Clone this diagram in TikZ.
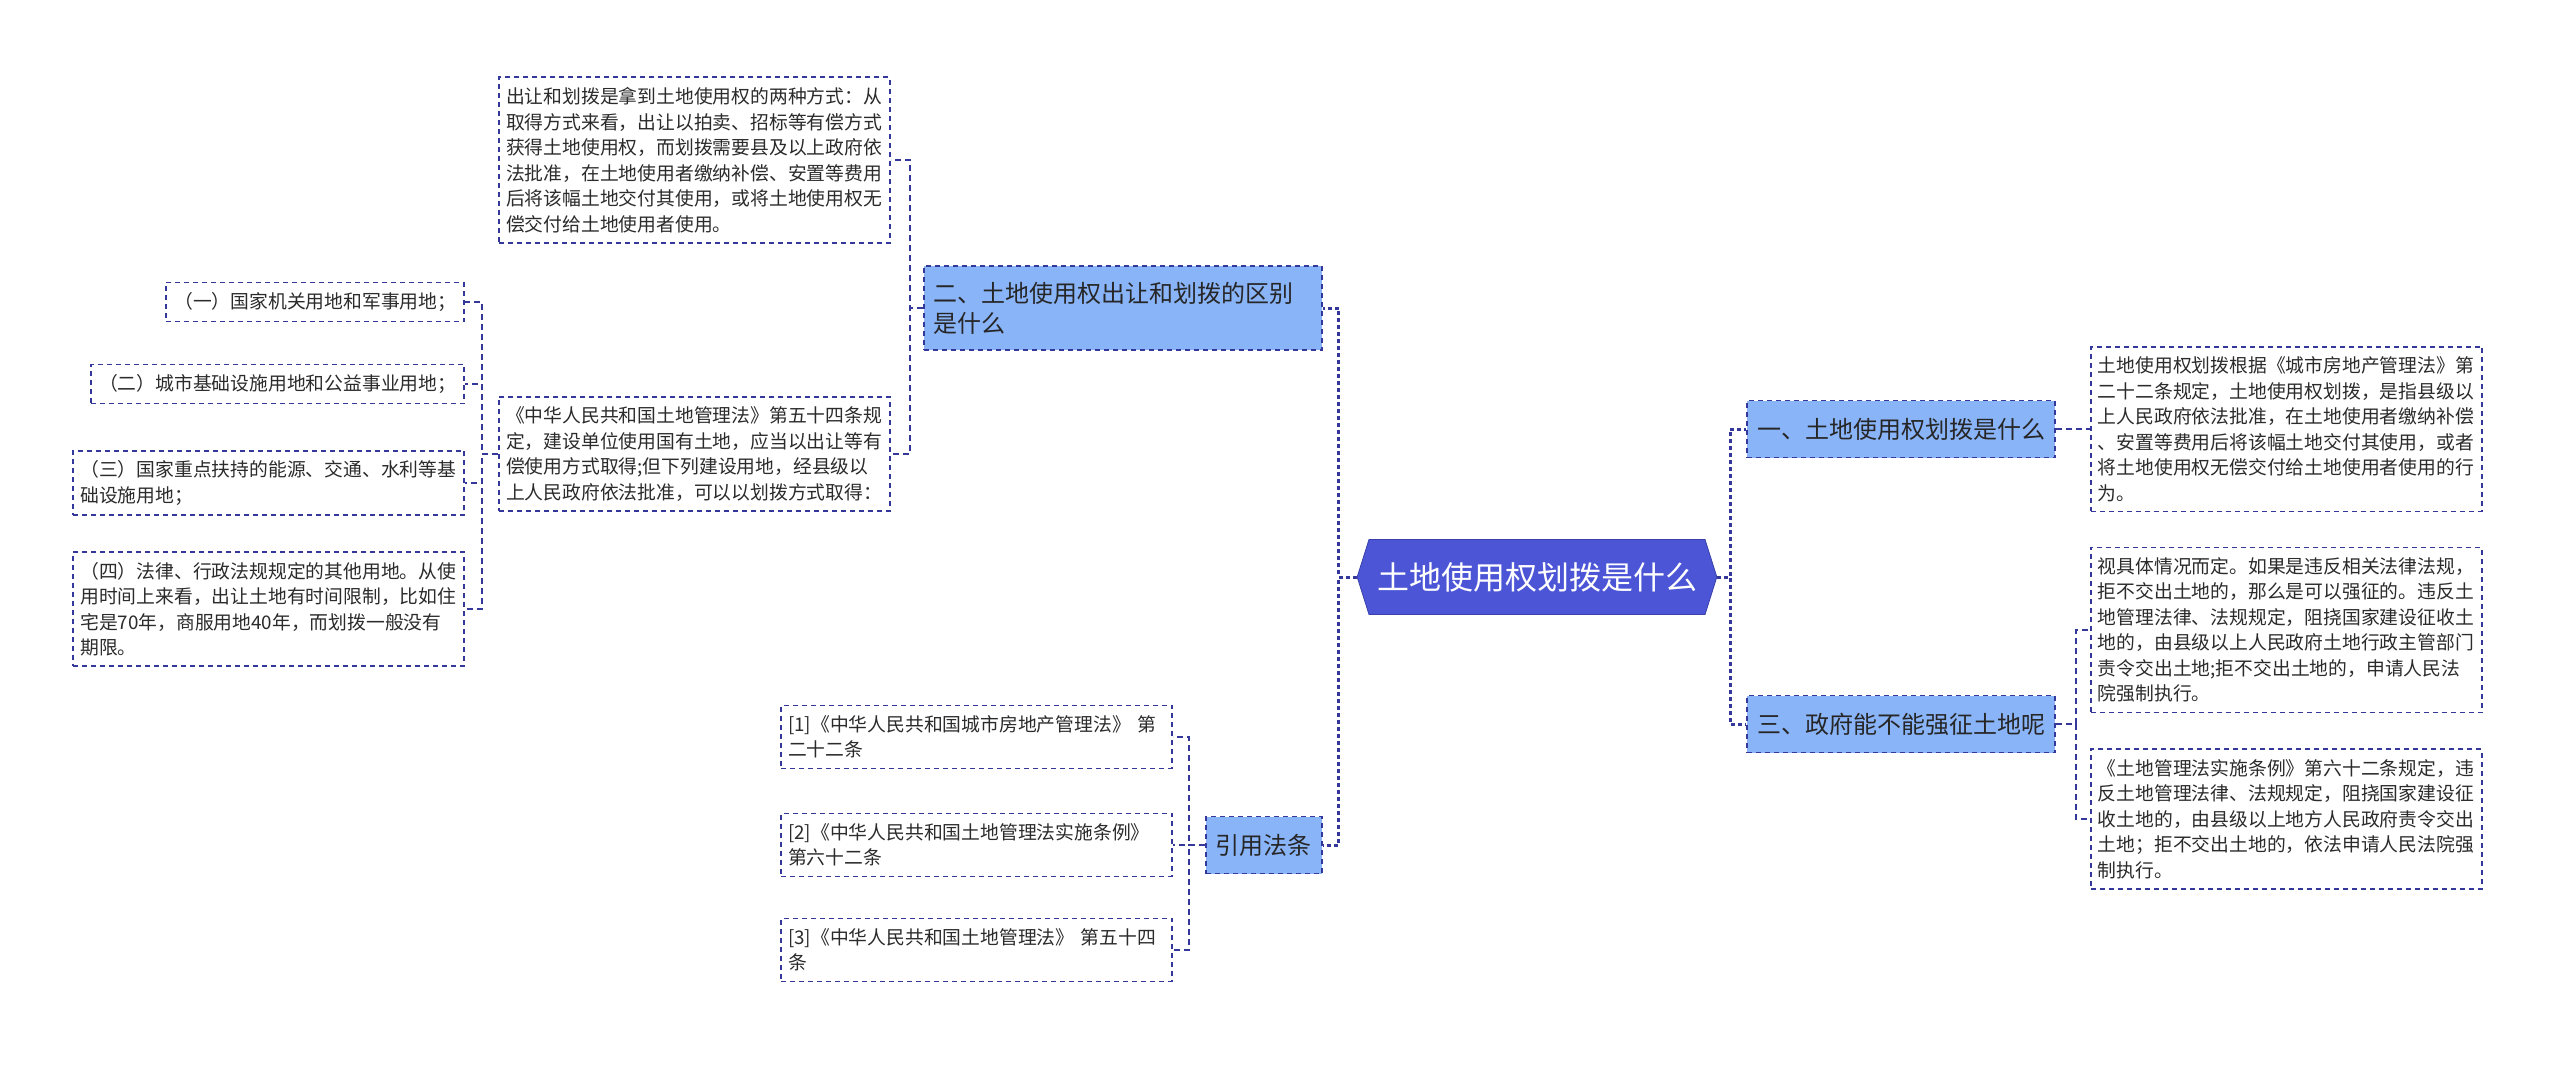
\documentclass[tikz,border=0pt]{standalone}
\usepackage{fontspec}
\setmainfont{Noto Sans CJK SC}
\usetikzlibrary{positioning,shapes.symbols}
\definecolor{rootblue}{HTML}{4B55D6}
\definecolor{rootedge}{HTML}{3A41A8}
\definecolor{branchblue}{HTML}{8AB4F8}
\definecolor{navy}{HTML}{33389A}
\definecolor{leaftext}{HTML}{2B2B2B}
\tikzset{
  rootnode/.style={shape=signal, signal to=east and west, signal pointer angle=145,
                   draw=rootedge, fill=rootblue, text=white, inner xsep=4pt,
                   font=\fontsize{16}{19}\selectfont,
                   minimum width=177pt, minimum height=37.5pt},
  branch/.style={rectangle, draw=navy, line width=0.9pt, dash pattern=on 2.5pt off 2pt,
                 fill=branchblue, text=black!85, align=left,
                 font=\fontsize{12}{15}\selectfont,
                 inner xsep=5pt, inner ysep=8pt, minimum height=28.5pt},
  leaf/.style={rectangle, draw=navy, line width=0.9pt, dash pattern=on 2.5pt off 2pt,
               fill=white, text=leaftext, align=left, text width=188.5pt,
               font=\fontsize{9.4}{12.75}\selectfont,
               inner xsep=3.5pt, inner ysep=5pt},
  shortleaf/.style={leaf, text width=, inner xsep=4pt},
  mainlink/.style={draw=navy, line width=1.5pt, dash pattern=on 2pt off 1.5pt},
  link/.style={draw=navy, line width=0.8pt, dash pattern=on 3pt off 2pt}
}
\begin{document}
\begin{tikzpicture}
  \useasboundingbox (0,0) rectangle (1280pt,-532.5pt);
  \node[rootnode] (root) at (768.5pt,-288.5pt) {土地使用权划拨是什么};

  % left side
  \node[branch, text width=189pt, left=17pt of root.west, yshift=134.5pt] (qtwo)
    {二、土地使用权出让和划拨的区别\\是什么};
  \node[branch, left=17pt of root.west, yshift=-134pt] (qfour) {引用法条};

  \node[leaf, left=16pt of qtwo.west, yshift=74pt] (ltop)
    {出让和划拨是拿到土地使用权的两种方式：从\\取得方式来看，出让以拍卖、招标等有偿方式\\获得土地使用权，而划拨需要县及以上政府依\\法批准，在土地使用者缴纳补偿、安置等费用\\后将该幅土地交付其使用，或将土地使用权无\\偿交付给土地使用者使用。};
  \node[leaf, left=16pt of qtwo.west, yshift=-73pt] (lmid)
    {《中华人民共和国土地管理法》第五十四条规\\定，建设单位使用国有土地，应当以出让等有\\偿使用方式取得;但下列建设用地，经县级以\\上人民政府依法批准，可以以划拨方式取得：};

  \node[shortleaf, left=16.5pt of lmid.west, yshift=76pt] (ka) {（一）国家机关用地和军事用地；};
  \node[shortleaf, left=16.5pt of lmid.west, yshift=35pt] (kb) {（二）城市基础设施用地和公益事业用地；};
  \node[leaf, left=16.5pt of lmid.west, yshift=-14.5pt] (kc)
    {（三）国家重点扶持的能源、交通、水利等基\\础设施用地；};
  \node[leaf, left=16.5pt of lmid.west, yshift=-77.5pt] (kd)
    {（四）法律、行政法规规定的其他用地。从使\\用时间上来看，出让土地有时间限制，比如住\\宅是70年，商服用地40年，而划拨一般没有\\期限。};

  \node[leaf, left=16pt of qfour.west, yshift=54pt] (refa)
    {[1]《中华人民共和国城市房地产管理法》 第\\二十二条};
  \node[leaf, left=16pt of qfour.west] (refb)
    {[2]《中华人民共和国土地管理法实施条例》\\第六十二条};
  \node[leaf, left=16pt of qfour.west, yshift=-52.5pt] (refc)
    {[3]《中华人民共和国土地管理法》 第五十四\\条};

  % right side
  \node[branch, right=14.5pt of root.east, yshift=74pt] (qone) {一、土地使用权划拨是什么};
  \node[branch, right=14.5pt of root.east, yshift=-73.5pt] (qthree) {三、政府能不能强征土地呢};

  \node[leaf, right=17pt of qone.east] (aone)
    {土地使用权划拨根据《城市房地产管理法》第\\二十二条规定，土地使用权划拨，是指县级以\\上人民政府依法批准，在土地使用者缴纳补偿\\、安置等费用后将该幅土地交付其使用，或者\\将土地使用权无偿交付给土地使用者使用的行\\为。};
  \node[leaf, right=17pt of qthree.east, yshift=47pt] (bone)
    {视具体情况而定。如果是违反相关法律法规，\\拒不交出土地的，那么是可以强征的。违反土\\地管理法律、法规规定，阻挠国家建设征收土\\地的，由县级以上人民政府土地行政主管部门\\责令交出土地;拒不交出土地的，申请人民法\\院强制执行。};
  \node[leaf, right=17pt of qthree.east, yshift=-47.5pt] (btwo)
    {《土地管理法实施条例》第六十二条规定，违\\反土地管理法律、法规规定，阻挠国家建设征\\收土地的，由县级以上地方人民政府责令交出\\土地；拒不交出土地的，依法申请人民法院强\\制执行。};

  % connectors
  \draw[mainlink] (root.west) -- ++(-9pt,0) |- (qtwo.east);
  \draw[mainlink] (root.west) -- ++(-9pt,0) |- (qfour.east);
  \draw[mainlink] (root.east) -- ++(6.5pt,0) |- (qone.west);
  \draw[mainlink] (root.east) -- ++(6.5pt,0) |- (qthree.west);

  \foreach \n in {ltop,lmid}
    \draw[link] (qtwo.west) -- ++(-6.5pt,0) |- (\n.east);
  \foreach \n in {ka,kb,kc,kd}
    \draw[link] (lmid.west) -- ++(-8pt,0) |- (\n.east);
  \foreach \n in {refa,refb,refc}
    \draw[link] (qfour.west) -- ++(-8pt,0) |- (\n.east);
  \draw[link] (qone.east) -- (aone.west);
  \foreach \n in {bone,btwo}
    \draw[link] (qthree.east) -- ++(10pt,0) |- (\n.west);
\end{tikzpicture}
\end{document}
